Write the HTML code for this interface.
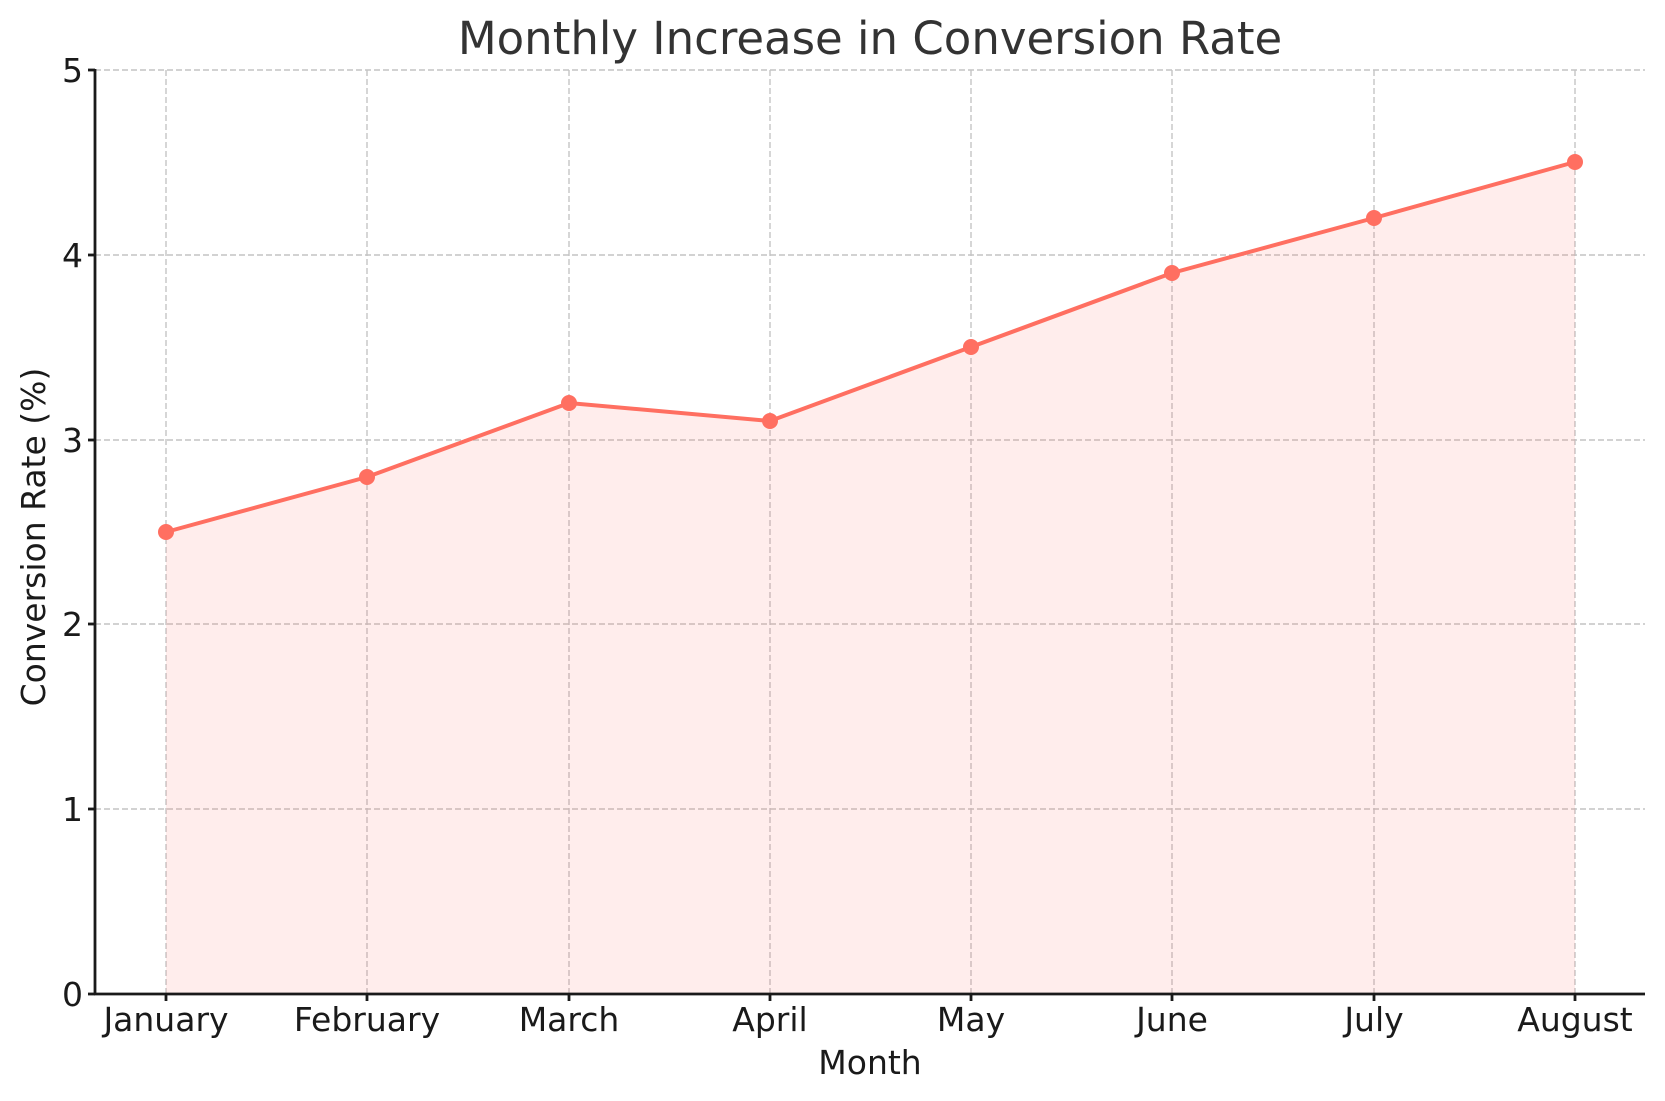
<!DOCTYPE html>
<html><head><meta charset="utf-8"><style>body{margin:0;background:#fff}svg{display:block}text{font-family:"DejaVu Sans","Liberation Sans",sans-serif}</style></head>
<body>
<svg width="1665" height="1101" viewBox="0 0 1665 1101" xmlns="http://www.w3.org/2000/svg">
<rect width="1665" height="1101" fill="#fff"/>
<g stroke="#c4c4c4" stroke-width="1.4" stroke-dasharray="6,3">
<line x1="95" y1="70" x2="1645" y2="70"/>
<line x1="95" y1="255" x2="1645" y2="255"/>
<line x1="95" y1="440" x2="1645" y2="440"/>
<line x1="95" y1="624" x2="1645" y2="624"/>
<line x1="95" y1="809" x2="1645" y2="809"/>
<line x1="166" y1="70" x2="166" y2="994"/>
<line x1="367" y1="70" x2="367" y2="994"/>
<line x1="569" y1="70" x2="569" y2="994"/>
<line x1="770" y1="70" x2="770" y2="994"/>
<line x1="971" y1="70" x2="971" y2="994"/>
<line x1="1172" y1="70" x2="1172" y2="994"/>
<line x1="1374" y1="70" x2="1374" y2="994"/>
<line x1="1575" y1="70" x2="1575" y2="994"/>
</g>
<polygon fill="#ff6f61" fill-opacity="0.12" points="166,994 166,532 367,477 569,403 770,421 971,347 1172,273 1374,218 1575,162 1575,994"/>
<polyline fill="none" stroke="#ff6f61" stroke-width="4" points="166,532 367,477 569,403 770,421 971,347 1172,273 1374,218 1575,162"/>
<g fill="#ff6f61">
<circle cx="166" cy="532" r="8"/><circle cx="367" cy="477" r="8"/><circle cx="569" cy="403" r="8"/><circle cx="770" cy="421" r="8"/><circle cx="971" cy="347" r="8"/><circle cx="1172" cy="273" r="8"/><circle cx="1374" cy="218" r="8"/><circle cx="1575" cy="162" r="8"/>
</g>
<g stroke="#1a1a1a" stroke-width="2.8">
<line x1="95" y1="69" x2="95" y2="995"/>
<line x1="94" y1="994" x2="1645" y2="994"/>
<line x1="88" y1="70" x2="95" y2="70"/><line x1="88" y1="255" x2="95" y2="255"/><line x1="88" y1="440" x2="95" y2="440"/><line x1="88" y1="624" x2="95" y2="624"/><line x1="88" y1="809" x2="95" y2="809"/><line x1="88" y1="994" x2="95" y2="994"/>
<line x1="166" y1="994" x2="166" y2="1001"/><line x1="367" y1="994" x2="367" y2="1001"/><line x1="569" y1="994" x2="569" y2="1001"/><line x1="770" y1="994" x2="770" y2="1001"/><line x1="971" y1="994" x2="971" y2="1001"/><line x1="1172" y1="994" x2="1172" y2="1001"/><line x1="1374" y1="994" x2="1374" y2="1001"/><line x1="1575" y1="994" x2="1575" y2="1001"/>
</g>
<g fill="#1a1a1a" font-size="33" text-anchor="end">
<text x="83" y="82">5</text><text x="83" y="267">4</text><text x="83" y="452">3</text><text x="83" y="636">2</text><text x="83" y="821">1</text><text x="83" y="1006">0</text>
</g>
<g fill="#1a1a1a" font-size="33" text-anchor="middle">
<text x="166" y="1031">January</text><text x="367" y="1031">February</text><text x="569" y="1031">March</text><text x="770" y="1031">April</text><text x="971" y="1031">May</text><text x="1172" y="1031">June</text><text x="1374" y="1031">July</text><text x="1575" y="1031">August</text>
</g>
<text x="870" y="1074" font-size="33" fill="#1a1a1a" text-anchor="middle">Month</text>
<text transform="translate(45,537) rotate(-90)" font-size="33" fill="#1a1a1a" text-anchor="middle">Conversion Rate (%)</text>
<text x="870" y="54" font-size="45" fill="#333" text-anchor="middle">Monthly Increase in Conversion Rate</text>
</svg>
</body></html>
